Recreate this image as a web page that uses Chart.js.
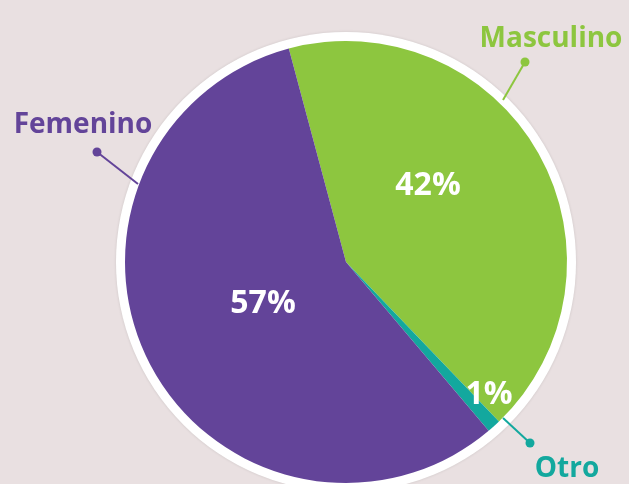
<!DOCTYPE html>
<html>
<head>
<meta charset="utf-8">
<script src="https://cdn.jsdelivr.net/npm/chart.js@4"></script>
<style>
  html, body { margin: 0; padding: 0; background: #e9e0e1; }
  #wrap { width: 629px; height: 484px; position: relative; overflow: hidden; }
</style>
</head>
<body>
<div id="wrap"><canvas id="chart" width="629" height="484"></canvas></div>
<script>
// datos del gráfico
const categorias = ['Masculino', 'Otro', 'Femenino'];
const valores = [42, 1, 57];
const etiquetas = ['42%', '1%', '57%'];
const colores = ['#8dc63f', '#13a89e', '#634499'];

// anillo blanco detras del pie
const anillo = {
    id: 'anillo',
    beforeDatasetsDraw(chart) {
        const arc = chart.getDatasetMeta(0).data[0];
        const c = chart.ctx;
        c.save();
        c.shadowColor = 'rgba(0,0,0,0.12)';
        c.shadowBlur = 3;
        c.fillStyle = '#ffffff';
        c.beginPath();
        c.arc(arc.x, arc.y, arc.outerRadius + 9, 0, Math.PI * 2);
        c.fill();
        c.restore();
    }
};

// textos y lineas guia
const textos = {
    id: 'textos',
    afterDraw(chart) {
        const c = chart.ctx;
        const arc = chart.getDatasetMeta(0).data[0];
        const cx = arc.x, cy = arc.y;
        c.save();
        c.textAlign = 'center';
        c.textBaseline = 'alphabetic';

        // porcentajes dentro del pie
        const pos = [[82, -67], [143, 142], [-83, 51]];
        c.font = 'bold 32px "Open Sans"';
        c.fillStyle = '#ffffff';
        etiquetas.forEach((t, i) => c.fillText(t, cx + pos[i][0], cy + pos[i][1]));

        // lineas guia con punto
        const guias = [
            [[503, 100], [525, 62]],
            [[503, 418], [530, 443]],
            [[138, 184], [97, 152]]
        ];
        guias.forEach((g, i) => {
            c.strokeStyle = colores[i];
            c.fillStyle = colores[i];
            c.lineWidth = 2;
            c.beginPath();
            c.moveTo(g[0][0], g[0][1]);
            c.lineTo(g[1][0], g[1][1]);
            c.stroke();
            c.beginPath();
            c.arc(g[1][0], g[1][1], 4.5, 0, Math.PI * 2);
            c.fill();
        });

        // nombres de categorias
        c.font = 'bold 28px "Open Sans"';
        const nombres = [[551, 47], [567, 477], [83, 133]];
        categorias.forEach((n, i) => {
            c.fillStyle = colores[i];
            c.fillText(n, nombres[i][0], nombres[i][1]);
        });
        c.restore();
    }
};

const ctx = document.getElementById('chart').getContext('2d');
const myChart = new Chart(ctx, {
    type: 'pie',
    data: {
        labels: categorias,
        datasets: [{
            data: valores,
            backgroundColor: colores,
            borderWidth: 0
        }]
    },
    options: {
        responsive: false,
        animation: false,
        rotation: -15,
        layout: {
            padding: { left: 125, right: 62, top: 41, bottom: 1 }
        },
        plugins: {
            legend: { display: false },
            tooltip: { enabled: false }
        }
    },
    plugins: [anillo, textos]
});
</script>
</body>
</html>
